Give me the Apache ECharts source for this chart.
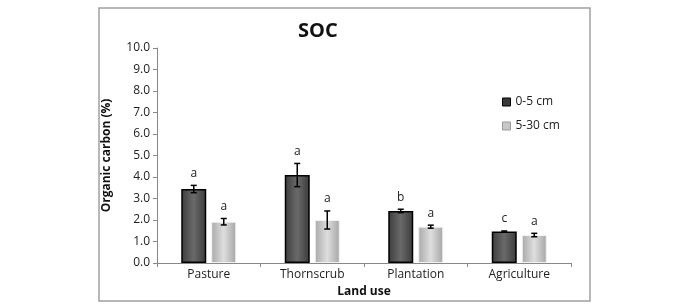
<!DOCTYPE html>
<html>
<head>
<meta charset="utf-8">
<script src="https://cdn.jsdelivr.net/npm/echarts@6/dist/echarts.min.js"></script>
<style>
  html, body { margin: 0; padding: 0; background: #fff; }
  #chart { width: 685px; height: 306px; }
</style>
</head>
<body>
<div id="chart"></div>
<script>
// 数据
const categories = ['Pasture', 'Thornscrub', 'Plantation', 'Agriculture'];
const seriesNames = ['0-5 cm', '5-30 cm'];
const shallow = [3.44, 4.09, 2.42, 1.46];
const shallowErr = [0.17, 0.54, 0.08, 0.03];
const deep = [1.92, 2.0, 1.69, 1.30];
const deepErr = [0.15, 0.42, 0.07, 0.08];
const shallowLetters = ['a', 'a', 'b', 'c'];
const deepLetters = ['a', 'a', 'a', 'a'];

const FONT = 'Open Sans';
const BAR_W = 25;
const OFFSET = 15; // 柱子中心相对类目中心的偏移

const chart = echarts.init(document.getElementById('chart'), null, { renderer: 'canvas' });

// 误差线 + 显著性字母
function errorRender(dir, letters) {
  return function (params, api) {
    const idx = api.value(0);
    const low = api.coord([idx, api.value(1)]);
    const high = api.coord([idx, api.value(2)]);
    const x = low[0] + dir * OFFSET;
    const cap = 3;
    const style = { stroke: '#000', lineWidth: 1.5 };
    return {
      type: 'group',
      children: [
        { type: 'line', shape: { x1: x, y1: low[1], x2: x, y2: high[1] }, style: style },
        { type: 'line', shape: { x1: x - cap, y1: low[1], x2: x + cap, y2: low[1] }, style: style },
        { type: 'line', shape: { x1: x - cap, y1: high[1], x2: x + cap, y2: high[1] }, style: style },
        {
          type: 'text',
          style: {
            text: letters[idx], x: x, y: high[1] - 12,
            align: 'center', verticalAlign: 'middle',
            fontFamily: FONT, fontSize: 12, fill: '#222'
          }
        }
      ]
    };
  };
}

const darkFill = new echarts.graphic.LinearGradient(0, 0, 1, 0, [
  { offset: 0, color: '#3c3c3c' },
  { offset: 0.5, color: '#6a6a6a' },
  { offset: 1, color: '#3a3a3a' }
]);
const lightFill = new echarts.graphic.LinearGradient(0, 0, 1, 0, [
  { offset: 0, color: '#a9a9a9' },
  { offset: 0.5, color: '#dedede' },
  { offset: 1, color: '#a5a5a5' }
]);

const option = {
  animation: false,
  backgroundColor: '#fff',
  title: {
    text: 'SOC',
    left: 293,
    top: 16,
    textStyle: { fontFamily: FONT, fontSize: 20, fontWeight: 'bold', color: '#111' }
  },
  legend: {
    orient: 'vertical',
    left: 497,
    top: 91,
    itemWidth: 8,
    itemHeight: 8,
    itemGap: 12,
    icon: 'rect',
    textStyle: { fontFamily: FONT, fontSize: 12, color: '#222' },
    data: [
      { name: seriesNames[0], itemStyle: { color: '#3a3a3a', borderColor: '#000', borderWidth: 1 } },
      { name: seriesNames[1], itemStyle: { color: '#c8c8c8', borderColor: '#999', borderWidth: 1 } }
    ]
  },
  grid: { left: 157, right: 114, top: 48, bottom: 43 },
  xAxis: {
    type: 'category',
    data: categories,
    name: 'Land use',
    nameLocation: 'middle',
    nameGap: 19,
    nameTextStyle: { fontFamily: FONT, fontSize: 12, fontWeight: 'bold', color: '#111' },
    axisLine: { lineStyle: { color: '#888' } },
    axisTick: { show: true, length: 4, lineStyle: { color: '#888' } },
    axisLabel: { fontFamily: FONT, fontSize: 12, color: '#222', margin: 6 }
  },
  yAxis: {
    type: 'value',
    min: 0,
    max: 10,
    interval: 1,
    name: 'Organic carbon (%)',
    nameLocation: 'middle',
    nameGap: 44,
    nameTextStyle: { fontFamily: FONT, fontSize: 12, fontWeight: 'bold', color: '#111' },
    axisLine: { show: true, lineStyle: { color: '#888' } },
    axisTick: { show: true, length: 4, lineStyle: { color: '#888' } },
    splitLine: { show: false },
    axisLabel: {
      fontFamily: FONT, fontSize: 12, color: '#222', margin: 7,
      formatter: v => v.toFixed(1)
    }
  },
  series: [
    {
      name: seriesNames[0],
      type: 'bar',
      data: shallow,
      barWidth: BAR_W,
      barGap: '20%',
      itemStyle: { color: darkFill, borderColor: '#000', borderWidth: 1.5 }
    },
    {
      name: seriesNames[1],
      type: 'bar',
      data: deep,
      barWidth: BAR_W,
      itemStyle: { color: lightFill, borderColor: '#f2f2f2', borderWidth: 1 }
    },
    {
      type: 'custom',
      silent: true,
      renderItem: errorRender(-1, shallowLetters),
      data: shallow.map((v, i) => [i, v - shallowErr[i], v + shallowErr[i]]),
      z: 10
    },
    {
      type: 'custom',
      silent: true,
      renderItem: errorRender(1, deepLetters),
      data: deep.map((v, i) => [i, v - deepErr[i], v + deepErr[i]]),
      z: 10
    }
  ],
  graphic: [
    {
      type: 'rect',
      shape: { x: 99, y: 8, width: 491, height: 293 },
      style: { fill: 'none', stroke: '#a0a0a0', lineWidth: 1.5 },
      silent: true
    }
  ]
};

chart.setOption(option);
</script>
</body>
</html>
